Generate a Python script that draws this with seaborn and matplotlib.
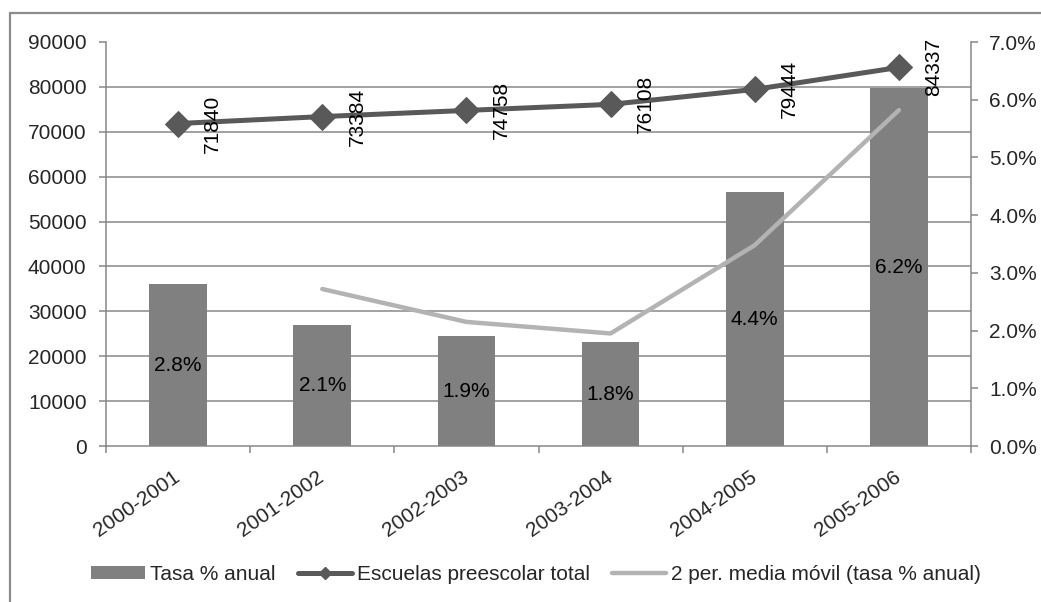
import numpy as np
import pandas as pd
import matplotlib
matplotlib.use("Agg")
import matplotlib.pyplot as plt
from matplotlib.lines import Line2D
from matplotlib.patches import Patch
from matplotlib.ticker import FuncFormatter, FixedLocator
import seaborn as sns

# --- data ---
periodos = ["2000-2001", "2001-2002", "2002-2003", "2003-2004", "2004-2005", "2005-2006"]
tasa_anual = [2.8, 2.1, 1.9, 1.8, 4.4, 6.2]            # % growth per year
escuelas_total = [71840, 73384, 74758, 76108, 79444, 84337]
media_movil = [2.72, 2.15, 1.95, 3.48, 5.82]           # 2-period moving average, from 2001-2002

sns.set_style("white")
plt.rcParams["font.family"] = ["Liberation Sans", "DejaVu Sans"]
FS = 15

W, H = 1041, 602
fig = plt.figure(figsize=(W / 100, H / 100), dpi=100)
left, right, bottom, top = 106 / W, 971 / W, 1 - 446 / H, 1 - 42 / H
ax2 = fig.add_axes([left, bottom, right - left, top - bottom])   # bars, right scale
ax = ax2.twinx()                                                    # lines, left scale
ax.yaxis.tick_left()
ax.yaxis.set_label_position("left")
ax2.yaxis.tick_right()
ax2.yaxis.set_label_position("right")

grid_c = "#878787"
bar_c = "#808080"
dark_c = "#595959"
light_c = "#b3b3b3"

df = pd.DataFrame({"periodo": periodos, "tasa": tasa_anual,
                   "escuelas": escuelas_total, "pos": np.arange(len(periodos))})
df_mm = pd.DataFrame({"pos": df["pos"].iloc[1:].values, "mm": media_movil})

# bars on the percentage axis
sns.barplot(data=df, x="periodo", y="tasa", ax=ax2, color=bar_c, width=0.4,
            saturation=1, edgecolor="none", zorder=2)
sns.lineplot(data=df_mm, x="pos", y="mm", ax=ax2, color=light_c, lw=3.2,
             zorder=3, legend=False)
for i, v in enumerate(tasa_anual):
    ax2.text(i, v / 2, f"{v:.1f}%", ha="center", va="center", fontsize=FS,
             color="black", zorder=4)

# schools total on the left axis
sns.lineplot(data=df, x="pos", y="escuelas", ax=ax, color=dark_c, lw=3.6,
             marker="D", markersize=13, markeredgecolor=dark_c, legend=False)
for i, v in enumerate(escuelas_total):
    ax.annotate(str(v), (i, v), xytext=(25, 0), textcoords="offset points",
                rotation=90, ha="center", va="center", fontsize=FS, color="black")

# stacking: lines above bars
ax.set_zorder(ax2.get_zorder() + 1)
ax.patch.set_visible(False)

# scales
ax.set_ylim(0, 90000)
ax2.set_ylim(0, 7)
ax.set_xlim(-0.5, 5.5)
ax.set_yticks(np.arange(0, 90001, 10000))
ax2.set_yticks(np.arange(0, 7.01, 1))
ax2.yaxis.set_major_formatter(FuncFormatter(lambda v, p: f"{v:.1f}%"))

# horizontal gridlines at the left-axis ticks, drawn under the bars
ax2.yaxis.set_minor_locator(FixedLocator(np.arange(1, 10) * 7 / 9))
ax2.grid(True, which="minor", axis="y", color=grid_c, lw=1.1, zorder=0)
ax2.grid(False, which="major")
ax2.tick_params(axis="y", which="minor", length=0)
ax.grid(False)

# x axis: labels at centres, tick marks at category boundaries
ax2.set_xticks(np.arange(6))
ax2.set_xticklabels(periodos)
ax2.set_xticks(np.arange(-0.5, 6, 1), minor=True)
ax2.tick_params(axis="x", which="major", length=0, pad=21, labelsize=FS)
ax2.tick_params(axis="x", which="minor", length=5, width=1.1, color=grid_c,
                direction="out", bottom=True)
for lab in ax2.get_xticklabels():
    lab.set_rotation(35)
    lab.set_rotation_mode("anchor")
    lab.set_ha("right")
    lab.set_va("center")

ax.tick_params(axis="y", which="major", length=5, width=1.1, color=grid_c,
               direction="out", pad=9, labelsize=FS, left=True, right=False)
ax2.tick_params(axis="y", which="major", length=5, width=1.1, color=grid_c,
                direction="out", pad=8, labelsize=FS, right=True, left=False)
ax.tick_params(axis="x", bottom=False, labelbottom=False)

ax.set_xlabel("")
ax.set_ylabel("")
ax2.set_xlabel("")
ax2.set_ylabel("")

for a in (ax, ax2):
    for s in a.spines.values():
        s.set_visible(False)
ax.spines["left"].set_visible(True)
ax.spines["left"].set_color(grid_c)
ax.spines["left"].set_linewidth(1.1)
ax2.spines["right"].set_visible(True)
ax2.spines["right"].set_color(grid_c)
ax2.spines["right"].set_linewidth(1.1)
ax2.spines["bottom"].set_visible(True)
ax2.spines["bottom"].set_color(grid_c)
ax2.spines["bottom"].set_linewidth(1.1)

# legend
handles = [
    Patch(facecolor=bar_c, edgecolor="none"),
    Line2D([], [], color=dark_c, lw=3.6, marker="D", markersize=6),
    Line2D([], [], color=light_c, lw=3.2),
]
labels = ["Tasa % anual", "Escuelas preescolar total",
          "2 per. media móvil (tasa % anual)"]
fig.legend(handles, labels, loc="center", bbox_to_anchor=(0.515, 1 - 574 / H),
           ncol=3, frameon=False, fontsize=FS, handlelength=2.6,
           handleheight=0.58, handletextpad=0.25, columnspacing=1.05)

# chart-area border (left and top edges)
fig.add_artist(Line2D([10 / W, 10 / W], [0, 1 - 13 / H], transform=fig.transFigure,
                      color="#8c8c8c", lw=1.6))
fig.add_artist(Line2D([10 / W, 1], [1 - 13 / H, 1 - 13 / H], transform=fig.transFigure,
                      color="#8c8c8c", lw=1.6))

fig.savefig("out.png", dpi=100, facecolor="white")
